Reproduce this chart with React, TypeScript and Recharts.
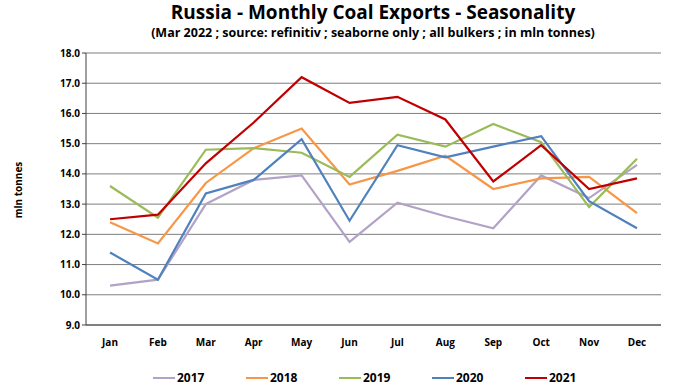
import { LineChart, Line, XAxis, YAxis, CartesianGrid, Legend } from "recharts";

const months = ["Jan", "Feb", "Mar", "Apr", "May", "Jun", "Jul", "Aug", "Sep", "Oct", "Nov", "Dec"];

const y2017 = [10.3, 10.5, 13.0, 13.8, 13.95, 11.75, 13.05, 12.6, 12.2, 13.95, 13.2, 14.3];
const y2018 = [12.4, 11.7, 13.7, 14.85, 15.5, 13.65, 14.1, 14.6, 13.5, 13.85, 13.9, 12.7];
const y2019 = [13.6, 12.55, 14.8, 14.85, 14.7, 13.9, 15.3, 14.9, 15.65, 15.05, 12.9, 14.5];
const y2020 = [11.4, 10.5, 13.35, 13.8, 15.15, 12.45, 14.95, 14.55, 14.9, 15.25, 13.1, 12.2];
const y2021 = [12.5, 12.65, 14.35, 15.7, 17.2, 16.35, 16.55, 15.8, 13.75, 14.95, 13.5, 13.85];

const yTicks = [9, 10, 11, 12, 13, 14, 15, 16, 17, 18];

const SERIES = [
  { key: "2017", color: "#b3a2c7" },
  { key: "2018", color: "#f79646" },
  { key: "2019", color: "#9bbb59" },
  { key: "2020", color: "#4f81bd" },
  { key: "2021", color: "#c00000" },
];

const data = months.map((m, i) => ({
  month: m,
  "2017": y2017[i],
  "2018": y2018[i],
  "2019": y2019[i],
  "2020": y2020[i],
  "2021": y2021[i],
}));

const FONT = "'Open Sans', sans-serif";

function LegendContent() {
  return (
    <div style={{ display: "flex", justifyContent: "center", paddingLeft: 110, paddingTop: 4 }}>
      {SERIES.map((s) => (
        <div key={s.key} style={{ display: "flex", alignItems: "center", width: 93 }}>
          <span style={{ display: "inline-block", width: 22, height: 2, background: s.color, marginRight: 2 }} />
          <span style={{ fontFamily: FONT, fontWeight: 700, fontSize: 12, color: "#000" }}>{s.key}</span>
        </div>
      ))}
    </div>
  );
}

export default function App() {
  return (
    <div style={{ position: "absolute", left: 0, top: 0, width: 682, height: 390, background: "#fff", fontFamily: FONT }}>
      <div style={{ position: "absolute", left: 64, width: 618, top: 0, textAlign: "center", fontSize: 19, fontWeight: 700, lineHeight: "24px" }}>
        Russia - Monthly Coal Exports - Seasonality
      </div>
      <div style={{ position: "absolute", left: 64, width: 618, top: 25, textAlign: "center", fontSize: 12.5, fontWeight: 700, lineHeight: "16px" }}>
        (Mar 2022 ; source: refinitiv ; seaborne only ; all bulkers ; in mln tonnes)
      </div>
      <div
        style={{
          position: "absolute",
          left: 10,
          top: 190,
          transform: "translate(-50%, -50%) rotate(-90deg)",
          transformOrigin: "center",
          fontSize: 10,
          fontWeight: 700,
          whiteSpace: "nowrap",
          marginLeft: 8,
        }}
      >
        mln tonnes
      </div>
      <div style={{ position: "absolute", left: 0, top: 0 }}>
        <LineChart width={682} height={390} data={data} margin={{ top: 53, right: 21, bottom: 0, left: 0 }}>
          <CartesianGrid vertical={false} stroke="#7f7f7f" strokeWidth={1} />
          <XAxis
            dataKey="month"
            padding={{ left: 24, right: 24 }}
            axisLine={{ stroke: "#404040" }}
            tickLine={false}
            tick={{ fontSize: 10, fontWeight: 700, fill: "#000", fontFamily: FONT }}
            tickMargin={8}
            height={40}
          />
          <YAxis
            domain={[9, 18]}
            ticks={yTicks}
            tickFormatter={(v) => v.toFixed(1)}
            axisLine={{ stroke: "#404040" }}
            tickLine={{ stroke: "#404040" }}
            tickSize={4}
            tick={{ fontSize: 10, fontWeight: 700, fill: "#000", fontFamily: FONT }}
            width={86}
          />
          <YAxis
            yAxisId="r"
            orientation="right"
            domain={[9, 18]}
            tick={false}
            tickLine={false}
            axisLine={{ stroke: "#a0a0a0" }}
            width={0}
          />
          {SERIES.map((s) => (
            <Line
              key={s.key}
              dataKey={s.key}
              stroke={s.color}
              strokeWidth={2.2}
              dot={false}
              isAnimationActive={false}
            />
          ))}
          <Legend verticalAlign="bottom" height={25} content={<LegendContent />} />
        </LineChart>
      </div>
    </div>
  );
}
